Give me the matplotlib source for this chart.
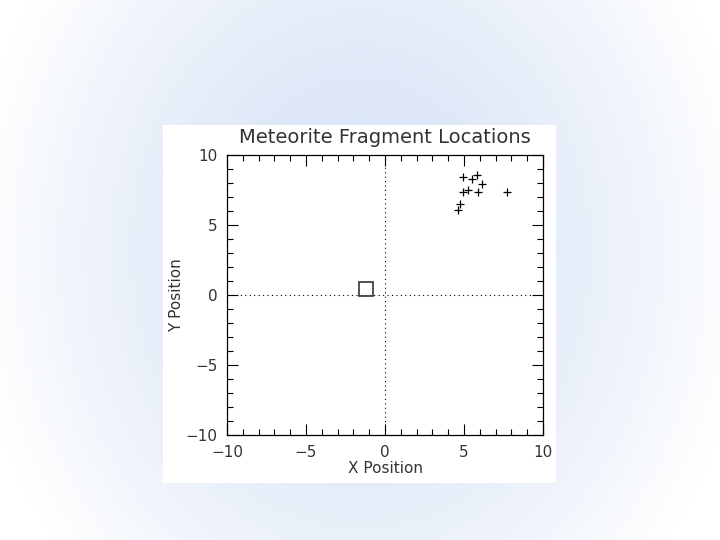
import matplotlib.pyplot as plt
import numpy as np
from matplotlib.ticker import MultipleLocator

# fragment positions
frag_x = [4.96, 5.49, 5.80, 6.16, 4.92, 5.23, 5.86, 7.70, 4.75, 4.64]
frag_y = [8.41, 8.26, 8.57, 7.93, 7.38, 7.50, 7.38, 7.38, 6.48, 6.07]
impact_x = [-1.2]
impact_y = [0.4]

fig = plt.figure(figsize=(7.2, 5.4), dpi=100)

# slide background: soft bluish radial glow fading to white
bg = fig.add_axes([0, 0, 1, 1])
yy, xx = np.mgrid[0:540, 0:720]
r = np.sqrt(((xx - 360) / 390.0) ** 2 + ((yy - 250) / 470.0) ** 2)
t = np.clip(r, 0, 1) ** 1.3
centre = np.array([0.83, 0.88, 0.96])
img = centre[None, None, :] * (1 - t[..., None]) + np.ones(3)[None, None, :] * t[..., None]
bg.imshow(img, aspect='auto', extent=[0, 720, 540, 0])
bg.set_axis_off()

# white plot panel
panel = fig.add_axes([163 / 720, 1 - 483 / 540, (556 - 163) / 720, (483 - 125) / 540])
panel.set_facecolor('white')
panel.set_xticks([])
panel.set_yticks([])
for s in panel.spines.values():
    s.set_visible(False)

ax = fig.add_axes([227 / 720, 1 - 435 / 540, (543 - 227) / 720, (435 - 155) / 540])
ax.set_xlim(-10, 10)
ax.set_ylim(-10, 10)
ax.axhline(0, color='black', ls=(0, (1, 3)), lw=0.8)
ax.axvline(0, color='black', ls=(0, (1, 3)), lw=0.8)
ax.plot(frag_x, frag_y, ls='none', marker='+', color='black', ms=6, mew=0.9)
ax.plot(impact_x, impact_y, ls='none', marker='s', mfc='none', mec='#333333', ms=10, mew=1.2)

ax.xaxis.set_major_locator(MultipleLocator(5))
ax.yaxis.set_major_locator(MultipleLocator(5))
ax.xaxis.set_minor_locator(MultipleLocator(1))
ax.yaxis.set_minor_locator(MultipleLocator(1))
ax.tick_params(which='both', direction='in', top=True, right=True, width=0.8,
               labelsize=11, labelcolor='#333333', pad=7)
ax.tick_params(which='major', length=8)
ax.tick_params(which='minor', length=4)
for s in ax.spines.values():
    s.set_linewidth(0.9)

ax.set_title('Meteorite Fragment Locations', fontsize=14, color='#333333', pad=9)
ax.set_xlabel('X Position', fontsize=11, color='#333333', labelpad=1)
ax.set_ylabel('Y Position', fontsize=11, color='#333333', labelpad=1)

fig.savefig('out.png', dpi=100)
